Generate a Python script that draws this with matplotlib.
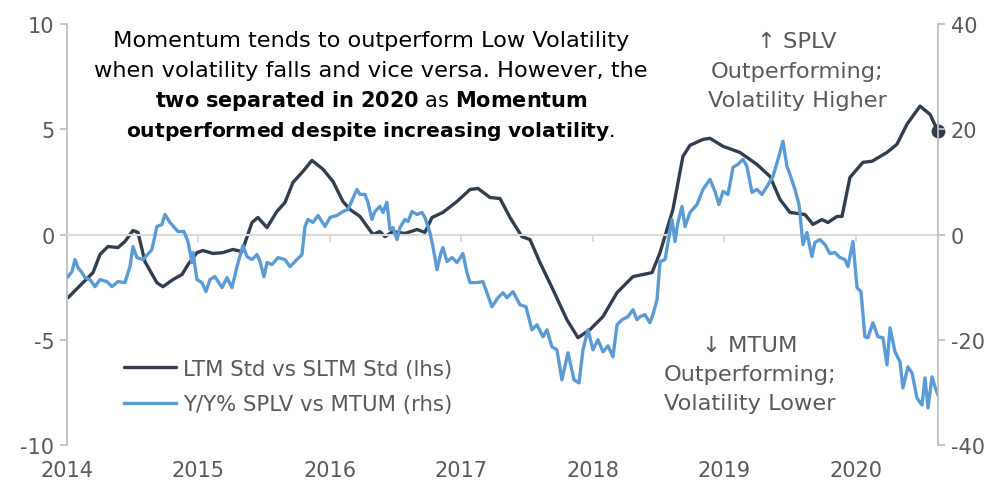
import numpy as np
import matplotlib.pyplot as plt

plt.rcParams['font.family'] = ['DejaVu Sans']
plt.rcParams['mathtext.fontset'] = 'dejavusans'
plt.rcParams['axes.unicode_minus'] = False

# LTM Std vs SLTM Std (lhs), decimal year / value
ltm_t = [2014.008, 2014.198, 2014.251, 2014.312, 2014.388, 2014.441, 2014.502, 2014.540,
         2014.593, 2014.684, 2014.730, 2014.806, 2014.875, 2014.920, 2014.989, 2015.034,
         2015.110, 2015.186, 2015.262, 2015.331, 2015.407, 2015.452, 2015.521, 2015.597,
         2015.658, 2015.719, 2015.795, 2015.863, 2015.947, 2016.023, 2016.099, 2016.152,
         2016.228, 2016.327, 2016.380, 2016.418, 2016.479, 2016.570, 2016.662, 2016.722,
         2016.776, 2016.859, 2016.966, 2017.065, 2017.125, 2017.217, 2017.293, 2017.369,
         2017.460, 2017.521, 2017.597, 2017.696, 2017.802, 2017.886, 2017.977, 2018.076,
         2018.183, 2018.304, 2018.449, 2018.510, 2018.608, 2018.684, 2018.738, 2018.837,
         2018.890, 2018.989, 2019.118, 2019.247, 2019.346, 2019.422, 2019.498, 2019.612,
         2019.673, 2019.741, 2019.787, 2019.856, 2019.894, 2019.954, 2020.053, 2020.122,
         2020.236, 2020.312, 2020.388, 2020.487, 2020.563, 2020.624]
ltm_v = [-3.0, -1.81, -0.95, -0.57, -0.62, -0.33, 0.19, 0.10,
         -1.29, -2.29, -2.48, -2.14, -1.90, -1.43, -0.86, -0.76,
         -0.90, -0.86, -0.71, -0.81, 0.57, 0.81, 0.33, 1.10,
         1.52, 2.48, 3.00, 3.52, 3.10, 2.52, 1.57, 1.19,
         0.86, 0.0, 0.14, -0.10, 0.14, 0.05, 0.24, 0.10,
         0.81, 1.05, 1.57, 2.14, 2.19, 1.76, 1.71, 0.81,
         -0.10, -0.24, -1.33, -2.62, -4.05, -4.90, -4.52, -3.90,
         -2.76, -2.0, -1.81, -0.86, 1.19, 3.71, 4.24, 4.52,
         4.57, 4.19, 3.90, 3.33, 2.76, 1.67, 1.05, 0.95,
         0.48, 0.71, 0.57, 0.86, 0.86, 2.71, 3.43, 3.48,
         3.90, 4.29, 5.24, 6.10, 5.71, 4.90]

# Y/Y% SPLV vs MTUM (rhs)
yy_t = [2014.008, 2014.038, 2014.061, 2014.084, 2014.114, 2014.137, 2014.175, 2014.213,
        2014.251, 2014.304, 2014.342, 2014.388, 2014.441, 2014.479, 2014.502, 2014.532,
        2014.578, 2014.646, 2014.684, 2014.722, 2014.745, 2014.783, 2014.844, 2014.890,
        2014.920, 2014.951, 2014.958, 2014.989, 2015.027, 2015.057, 2015.087, 2015.125,
        2015.179, 2015.217, 2015.255, 2015.293, 2015.338, 2015.369, 2015.407, 2015.445,
        2015.468, 2015.498, 2015.521, 2015.559, 2015.605, 2015.658, 2015.696, 2015.749,
        2015.787, 2015.810, 2015.833, 2015.871, 2015.909, 2015.962, 2016.000, 2016.053,
        2016.099, 2016.137, 2016.205, 2016.228, 2016.266, 2016.289, 2016.319, 2016.342,
        2016.380, 2016.403, 2016.433, 2016.456, 2016.479, 2016.510, 2016.532, 2016.570,
        2016.593, 2016.624, 2016.662, 2016.700, 2016.722, 2016.760, 2016.783, 2016.814,
        2016.844, 2016.859, 2016.890, 2016.928, 2016.966, 2017.011, 2017.042, 2017.065,
        2017.118, 2017.163, 2017.232, 2017.278, 2017.316, 2017.346, 2017.392, 2017.445,
        2017.490, 2017.536, 2017.574, 2017.620, 2017.650, 2017.688, 2017.726, 2017.764,
        2017.810, 2017.856, 2017.894, 2017.924, 2017.962, 2018.000, 2018.038, 2018.076,
        2018.114, 2018.152, 2018.183, 2018.221, 2018.266, 2018.304, 2018.335, 2018.357,
        2018.395, 2018.433, 2018.456, 2018.487, 2018.510, 2018.548, 2018.601, 2018.624,
        2018.646, 2018.677, 2018.700, 2018.738, 2018.791, 2018.837, 2018.890, 2018.928,
        2018.958, 2018.989, 2019.027, 2019.065, 2019.103, 2019.141, 2019.171, 2019.209,
        2019.247, 2019.285, 2019.323, 2019.369, 2019.407, 2019.445, 2019.475, 2019.498,
        2019.536, 2019.567, 2019.597, 2019.627, 2019.665, 2019.688, 2019.726, 2019.764,
        2019.802, 2019.840, 2019.878, 2019.916, 2019.939, 2019.977, 2020.008, 2020.038,
        2020.068, 2020.091, 2020.129, 2020.167, 2020.205, 2020.236, 2020.259, 2020.297,
        2020.335, 2020.357, 2020.395, 2020.426, 2020.464, 2020.502, 2020.525, 2020.548,
        2020.578, 2020.601, 2020.624]
yy_v = [-8.0, -7.05, -4.76, -6.29, -7.24, -8.19, -8.57, -9.91,
        -8.57, -8.95, -9.91, -8.95, -9.14, -6.10, -2.29, -4.38,
        -4.76, -2.86, 1.52, 1.91, 3.81, 2.29, 0.57, 0.57,
        -1.33, -5.33, -3.43, -8.57, -9.14, -10.86, -8.57, -8.0,
        -10.10, -8.19, -10.10, -6.10, -2.10, -4.19, -4.76, -3.81,
        -5.14, -8.0, -5.33, -5.71, -4.38, -4.76, -6.10, -4.76,
        -3.81, 1.52, 2.86, 2.29, 3.62, 1.52, 3.24, 3.62,
        4.38, 4.76, 8.57, 7.62, 7.62, 6.10, 2.86, 4.38,
        5.33, 4.19, 6.10, 0.95, 1.33, -0.95, 1.33, 2.86,
        2.48, 4.38, 3.81, 4.19, 3.24, 0.38, -2.29, -6.67,
        -3.43, -2.48, -5.14, -4.38, -5.33, -3.62, -7.24, -9.14,
        -9.14, -8.95, -13.72, -12.0, -11.05, -12.0, -10.86, -13.34,
        -13.72, -18.10, -17.15, -19.43, -18.10, -21.34, -21.91, -27.62,
        -22.48, -27.62, -28.19, -21.91, -18.10, -21.91, -20.0, -22.29,
        -21.15, -23.24, -17.15, -16.19, -15.62, -14.29, -16.19, -15.62,
        -15.24, -16.76, -15.24, -12.38, -5.14, -4.76, 2.86, -1.33,
        2.29, 5.33, 1.52, 4.19, 5.71, 8.57, 10.48, 8.19,
        5.71, 8.19, 7.62, 12.76, 13.34, 14.29, 12.95, 8.0,
        8.57, 7.62, 9.14, 11.05, 14.29, 17.72, 12.95, 11.43,
        8.57, 5.71, -1.91, 0.38, -4.19, -1.52, -0.95, -1.91,
        -3.62, -3.43, -4.38, -4.76, -6.10, -1.33, -10.10, -10.86,
        -19.43, -19.62, -16.76, -19.43, -19.62, -24.76, -17.72, -22.29,
        -24.19, -29.15, -25.15, -26.29, -31.05, -32.39, -27.24, -32.96,
        -27.05, -28.96, -30.48]

years = [2014, 2015, 2016, 2017, 2018, 2019, 2020]
lhs_ticks = [-10, -5, 0, 5, 10]
rhs_ticks = [-40, -20, 0, 20, 40]

dark = '#323E4F'
blue = '#5B9BD5'
grey = '#595959'
spine = '#BFBFBF'

fig = plt.figure(figsize=(10.07, 4.85), dpi=100)
ax = fig.add_axes([0.0665, 0.0804, 0.865, 0.868])
ax2 = ax.twinx()

ax.plot(ltm_t, ltm_v, color=dark, lw=2.4, label='LTM Std vs SLTM Std (lhs)', solid_capstyle='round')
ax.plot(ltm_t[-1], ltm_v[-1], 'o', color=dark, ms=9, clip_on=False, zorder=5)
ax2.plot(yy_t, yy_v, color=blue, lw=2.4, label='Y/Y% SPLV vs MTUM (rhs)')

ax.set_xlim(2014, ltm_t[-1])
ax.set_ylim(-10, 10)
ax2.set_ylim(-40, 40)
ax.set_yticks(lhs_ticks)
ax2.set_yticks(rhs_ticks)

for s in ['top', 'right']:
    ax.spines[s].set_visible(False)
for s in ['top', 'left', 'bottom']:
    ax2.spines[s].set_visible(False)
ax.spines['left'].set_color(spine)
ax.spines['left'].set_linewidth(1.3)
ax2.spines['right'].set_color(spine)
ax2.spines['right'].set_linewidth(1.3)
ax.spines['bottom'].set_position(('data', 0))
ax.spines['bottom'].set_color('#D9D9D9')
ax.spines['bottom'].set_linewidth(1.5)

ax.set_xticks(years)
ax.tick_params(axis='x', direction='out', length=5, width=1.3, color='#D9D9D9', labelbottom=False)
ax.tick_params(axis='y', length=5, width=1.3, color=spine, labelsize=15, labelcolor=grey, pad=4)
ax2.tick_params(axis='y', length=5, width=1.3, color=spine, labelsize=15, labelcolor=grey, pad=4)

secax = ax.secondary_xaxis('bottom')
secax.set_xticks(years)
secax.spines['bottom'].set_visible(False)
secax.tick_params(length=0, labelsize=15, labelcolor=grey, pad=11)

h1, l1 = ax.get_legend_handles_labels()
h2, l2 = ax2.get_legend_handles_labels()
ax2.legend(h1 + h2, l1 + l2, loc='upper left', bbox_to_anchor=(0.065, 0.205), frameon=False,
           fontsize=15.3, labelcolor=grey, handlelength=2.45, handletextpad=0.35,
           labelspacing=0.72, borderpad=0, borderaxespad=0)

# commentary
W, H = 1007, 485
cx = 371 / W
lines = [('Momentum tends to outperform Low Volatility', 16.2),
         ('when volatility falls and vice versa. However, the', 16.2),
         (r'$\mathbf{two\ separated\ in\ 2020}$ as $\mathbf{Momentum}$', 15),
         (r'$\mathbf{outperformed\ despite\ increasing\ volatility}$.', 14.6)]
for i, (t, fs) in enumerate(lines):
    fig.text(cx, 1 - (47 + 30 * i) / H, t, ha='center', va='baseline', fontsize=fs, color='black')

up = ['\u2191 SPLV', 'Outperforming;', 'Volatility Higher']
for i, t in enumerate(up):
    fig.text(797 / W, 1 - (48 + 29.5 * i) / H, t, ha='center', va='baseline', fontsize=16.2, color=grey)
down = ['\u2193 MTUM', 'Outperforming;', 'Volatility Lower']
for i, t in enumerate(down):
    fig.text(750 / W, 1 - (352 + 29 * i) / H, t, ha='center', va='baseline', fontsize=16.2, color=grey)

fig.savefig('out.png', dpi=100)
